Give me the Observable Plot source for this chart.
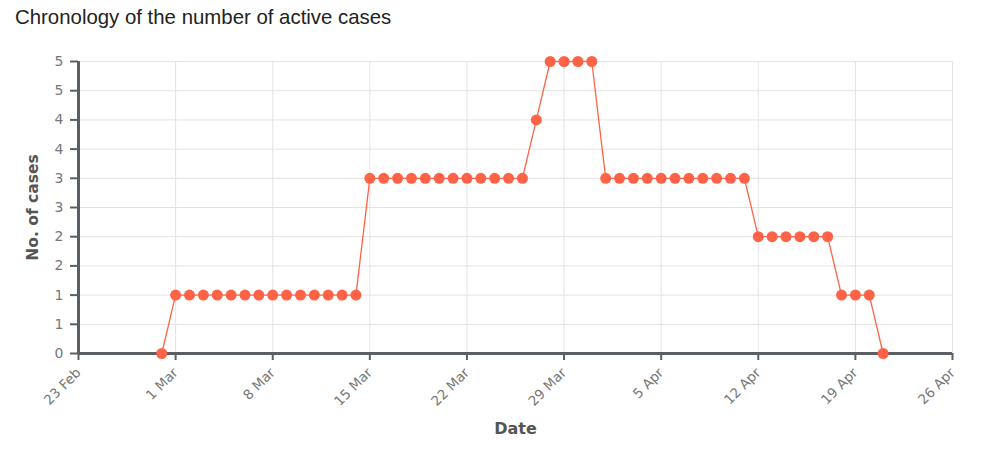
<!DOCTYPE html>
<html>
<head>
<meta charset="utf-8">
<script src="https://cdn.jsdelivr.net/npm/d3@7"></script>
<script src="https://cdn.jsdelivr.net/npm/@observablehq/plot@0.6"></script>
<style>
  html, body { margin: 0; padding: 0; background: #fff; }
  #title { height: 40px; box-sizing: border-box; padding: 6px 0 0 15px; font-family: "Liberation Sans", Arial, sans-serif; font-size: 20.4px; color: #222; }
  #chart svg { display: block; }
</style>
</head>
<body>
<div id="title">Chronology of the number of active cases</div>
<div id="chart"></div>
<script>
const dates = [
  "2020-02-29",
  "2020-03-01","2020-03-02","2020-03-03","2020-03-04","2020-03-05","2020-03-06","2020-03-07",
  "2020-03-08","2020-03-09","2020-03-10","2020-03-11","2020-03-12","2020-03-13","2020-03-14",
  "2020-03-15","2020-03-16","2020-03-17","2020-03-18","2020-03-19","2020-03-20","2020-03-21",
  "2020-03-22","2020-03-23","2020-03-24","2020-03-25","2020-03-26","2020-03-27","2020-03-28",
  "2020-03-29","2020-03-30","2020-03-31","2020-04-01","2020-04-02","2020-04-03","2020-04-04",
  "2020-04-05","2020-04-06","2020-04-07","2020-04-08","2020-04-09","2020-04-10","2020-04-11",
  "2020-04-12","2020-04-13","2020-04-14","2020-04-15","2020-04-16","2020-04-17","2020-04-18",
  "2020-04-19","2020-04-20","2020-04-21"
];
const activeCases = [
  0,
  1,1,1,1,1,1,1,
  1,1,1,1,1,1,1,
  3,3,3,3,3,3,3,
  3,3,3,3,3,4,5,
  5,5,5,3,3,3,3,
  3,3,3,3,3,3,3,
  2,2,2,2,2,2,1,
  1,1,0
];
const xTickDates = ["2020-02-23","2020-03-01","2020-03-08","2020-03-15","2020-03-22","2020-03-29","2020-04-05","2020-04-12","2020-04-19","2020-04-26"];
const xTickLabels = ["23 Feb","1 Mar","8 Mar","15 Mar","22 Mar","29 Mar","5 Apr","12 Apr","19 Apr","26 Apr"];
const yTicks = [0,0.5,1,1.5,2,2.5,3,3.5,4,4.5,5];
const yTickLabels = ["0","1","1","2","2","3","3","4","4","5","5"];
const xLabel = "Date";
const yLabel = "No. of cases";

const data = dates.map((d, i) => ({date: new Date(d), value: activeCases[i]}));
const xTicks = xTickDates.map(d => new Date(d));
const xDomain = [xTicks[0], xTicks[xTicks.length - 1]];

const lineColor = "#ff6347";
const axisColor = "#5a5f63";

const chart = Plot.plot({
  width: 1000,
  height: 426,
  marginLeft: 78,
  marginRight: 48,
  marginTop: 21,
  marginBottom: 113,
  style: {fontFamily: "DejaVu Sans, sans-serif", fontSize: "13px", color: "#777", background: "#fff", overflow: "visible"},
  x: {type: "utc", domain: xDomain},
  y: {domain: [0, 5]},
  marks: [
    Plot.gridX(xTicks, {stroke: "#e3e3e3", strokeOpacity: 1, strokeWidth: 1}),
    Plot.gridY(yTicks, {stroke: "#e3e3e3", strokeOpacity: 1, strokeWidth: 1}),
    Plot.axisY(yTicks, {
      tickFormat: (d, i) => yTickLabels[i],
      tickSize: 8, tickPadding: 7, stroke: axisColor, strokeWidth: 2, label: null, fill: "#777", fontSize: 14
    }),
    Plot.axisX(xTicks, {
      tickFormat: (d, i) => xTickLabels[i],
      tickSize: 7, tickPadding: 10, tickRotate: -45, stroke: axisColor, strokeWidth: 2, label: null, fill: "#777", fontSize: 13.5
    }),
    Plot.ruleY([0], {stroke: axisColor, strokeWidth: 3}),
    Plot.ruleX([xDomain[0]], {stroke: axisColor, strokeWidth: 3, y1: 0, y2: 5}),
    Plot.line(data, {x: "date", y: "value", stroke: lineColor, strokeWidth: 1.3}),
    Plot.dot(data, {x: "date", y: "value", r: 5.5, fill: lineColor, stroke: null}),
    Plot.text([xLabel], {frameAnchor: "bottom", dy: 80, fontWeight: "bold", fontSize: 16, fill: "#555"}),
    Plot.text([yLabel], {frameAnchor: "left", dx: -45, rotate: -90, textAnchor: "middle", fontWeight: "bold", fontSize: 15.5, fill: "#555"})
  ]
});
document.getElementById("chart").appendChild(chart);
</script>
</body>
</html>
